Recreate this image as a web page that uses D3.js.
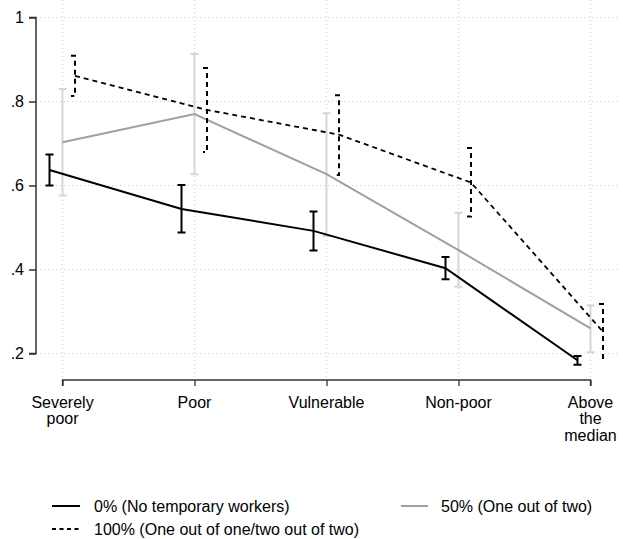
<!DOCTYPE html>
<html>
<head>
<meta charset="utf-8">
<script src="https://cdn.jsdelivr.net/npm/d3@7"></script>
<style>
  body { margin: 0; background: #fff; }
  svg text { font-family: "Liberation Sans", Arial, sans-serif; font-size: 16px; fill: #000; }
</style>
</head>
<body>
<svg id="chart" width="623" height="539"></svg>
<script>
const categories = ["Severely poor", "Poor", "Vulnerable", "Non-poor", "Above the median"];
const categoryLines = [["Severely", "poor"], ["Poor"], ["Vulnerable"], ["Non-poor"], ["Above", "the", "median"]];
const yTicks = [0.2, 0.4, 0.6, 0.8, 1];
const yTickLabels = [".2", ".4", ".6", ".8", "1"];

const s0_est = [0.637, 0.544, 0.492, 0.403, 0.184];
const s0_lo  = [0.600, 0.488, 0.445, 0.377, 0.173];
const s0_hi  = [0.674, 0.601, 0.538, 0.430, 0.194];

const s50_est = [0.703, 0.770, 0.627, 0.446, 0.260];
const s50_lo  = [0.576, 0.627, 0.480, 0.359, 0.203];
const s50_hi  = [0.830, 0.913, 0.772, 0.535, 0.314];

const s100_est = [0.861, 0.780, 0.721, 0.607, 0.252];
const s100_lo  = [0.813, 0.680, 0.625, 0.526, 0.187];
const s100_hi  = [0.909, 0.880, 0.815, 0.689, 0.318];

const seriesNames = ["0% (No temporary workers)", "50% (One out of two)", "100% (One out of one/two out of two)"];

const svg = d3.select("#chart");

const x = d3.scalePoint().domain(categories).range([62.5, 590.5]);
const y = d3.scaleLinear().domain([0.2, 1]).range([353.5, 17.5]);

// gridlines
const grid = svg.append("g");
grid.selectAll("line.h").data(yTicks).enter().append("line")
  .attr("x1", 36).attr("x2", 620)
  .attr("y1", d => y(d)).attr("y2", d => y(d))
  .attr("stroke", "#d0d0d0").attr("stroke-width", 1).attr("stroke-dasharray", "1,3");
grid.selectAll("line.v").data(categories).enter().append("line")
  .attr("x1", d => x(d)).attr("x2", d => x(d))
  .attr("y1", 0).attr("y2", 380)
  .attr("stroke", "#d0d0d0").attr("stroke-width", 1).attr("stroke-dasharray", "1,3");

// y axis
const yAxis = d3.axisLeft(y).tickValues(yTicks).tickFormat((d, i) => yTickLabels[i]).tickSize(7).tickPadding(5);
const gy = svg.append("g").attr("transform", "translate(36,0)").call(yAxis);
gy.select(".domain").attr("stroke", "#333").attr("stroke-width", 1.5).attr("d", `M-7,${y(1)}H0V${y(0.2)}H-7`);
gy.selectAll(".tick line").attr("stroke", "#333").attr("stroke-width", 1.5);
gy.selectAll(".tick text").style("font-size", "16px").style("font-family", "'Liberation Sans', Arial, sans-serif");

// x axis
const xAxis = d3.axisBottom(x).tickSize(6).tickFormat("");
const gx = svg.append("g").attr("transform", "translate(0,380)").call(xAxis);
gx.select(".domain").attr("stroke", "#333").attr("stroke-width", 1.3).attr("d", `M${x(categories[0])},6V0H${x(categories[4])}V6`);
gx.selectAll(".tick line").attr("stroke", "#333").attr("stroke-width", 1.3);
categories.forEach((c, i) => {
  const t = svg.append("text").attr("text-anchor", "middle").attr("x", x(c)).attr("y", 407.5);
  categoryLines[i].forEach((ln, j) => {
    t.append("tspan").attr("x", x(c)).attr("dy", j === 0 ? 0 : 16.8).text(ln);
  });
});

const line = d3.line().x(d => d[0]).y(d => d[1]);

function drawSeries(est, lo, hi, dx, lineColor, barColor, width, dash, bracket) {
  const g = svg.append("g");
  categories.forEach((c, i) => {
    const cx = x(c) + dx;
    let p;
    if (bracket) {
      p = `M${cx - 4},${y(hi[i])}H${cx}V${y(lo[i])}H${cx - 4}`;
    } else {
      p = `M${cx - 4},${y(hi[i])}H${cx + 4}M${cx},${y(hi[i])}V${y(lo[i])}M${cx - 4},${y(lo[i])}H${cx + 4}`;
    }
    g.append("path").attr("d", p).attr("fill", "none").attr("stroke", barColor)
      .attr("stroke-width", 2).attr("stroke-dasharray", dash || null);
  });
  g.append("path")
    .attr("d", line(categories.map((c, i) => [x(c) + dx, y(est[i])])))
    .attr("fill", "none").attr("stroke", lineColor).attr("stroke-width", width)
    .attr("stroke-dasharray", dash || null);
}

drawSeries(s50_est, s50_lo, s50_hi, 0, "#a0a0a0", "#d6d6d6", 2, null, false);
drawSeries(s0_est, s0_lo, s0_hi, -13, "#000", "#000", 2, null, false);
drawSeries(s100_est, s100_lo, s100_hi, 12.5, "#000", "#000", 1.8, "5,4", true);

// legend
const legend = svg.append("g");
const legendItems = [
  { name: seriesNames[0], x1: 52, x2: 80, tx: 94, y: 506, color: "#000", dash: null },
  { name: seriesNames[1], x1: 401, x2: 428, tx: 441, y: 506, color: "#a0a0a0", dash: null },
  { name: seriesNames[2], x1: 52, x2: 80, tx: 94, y: 529, color: "#000", dash: "4,3.5" }
];
legendItems.forEach(it => {
  legend.append("line").attr("x1", it.x1).attr("x2", it.x2).attr("y1", it.y).attr("y2", it.y)
    .attr("stroke", it.color).attr("stroke-width", 2).attr("stroke-dasharray", it.dash);
  legend.append("text").attr("x", it.tx).attr("y", it.y).attr("dy", "0.35em").text(it.name);
});
</script>
</body>
</html>
